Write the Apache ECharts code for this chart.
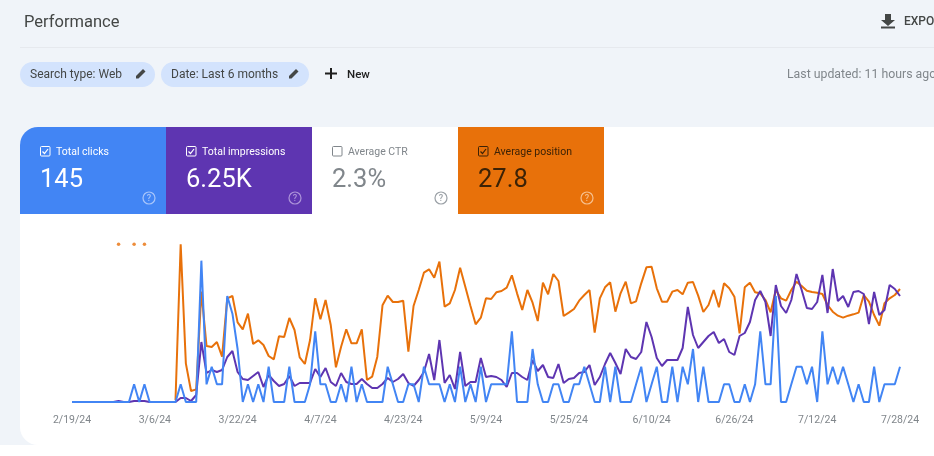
<!DOCTYPE html>
<html>
<head>
<meta charset="utf-8">
<title>Performance</title>
<style>html,body{margin:0;padding:0;background:#f0f4f9;overflow:hidden}#c{width:934px;height:456px}</style>
<script src="https://cdn.jsdelivr.net/npm/echarts@6/dist/echarts.min.js"></script>
</head>
<body>
<div id="c"></div>
<script>
// Daily values (2/19/24 .. 7/28/24, 161 days)
const clicks = [0,0,0,0,0,0,0,0,0,0,0,0,1,0,1,0,0,0,0,0,0,1,0,0,0,8,1,2,1,1,6,5,3,0,1,0,1,0,2,0,0,0,2,0,0,0,1,4,1,1,0,0,1,0,2,0,1,0,0,0,0,2,1,0,0,1,1,0,2,1,1,1,0,1,0,2,0,1,0,2,0,1,1,1,1,4,0,0,0,3,1,0,0,1,1,0,0,1,1,2,1,0,0,2,0,2,0,0,0,1,2,0,1,2,0,0,2,0,2,1,3,0,2,0,0,0,1,1,0,0,1,0,1,4,1,1,6,0,0,1,2,2,1,2,0,4,1,2,1,2,1,0,1,0,0,2,0,1,1,1,2];
const impressions = [0,0,0,0,0,0,0,0,0,1,0,0,1,1,1,0,0,0,0,0,0,4,4,1,7,60,29,32,30,32,45,51,30,23,22,26,30,15,27,21,16,18,26,16,19,19,19,33,25,34,20,16,29,20,18,18,23,18,14,14,18,24,20,23,28,19,16,22,30,48,22,62,19,27,13,50,16,20,20,44,25,26,25,22,15,29,29,25,22,42,31,37,25,24,38,19,23,24,29,30,37,17,25,38,49,39,28,53,45,43,50,80,65,44,36,42,42,42,54,95,67,54,60,66,70,59,63,50,47,66,69,80,102,111,100,66,117,96,89,102,128,112,94,93,100,127,89,133,101,106,95,110,111,108,78,110,87,92,117,113,106];
const position = [null,null,null,null,null,null,null,null,null,1,null,null,1,null,1,null,null,null,null,null,94.4,1,72.4,89,88,29.4,62,62.6,59.6,68.4,33.4,32,47.8,52,42.6,60.8,58.6,61.4,68,70,56.2,56.6,45.2,52.4,68.8,72.8,58.4,33.4,46,34.4,49.4,74.8,62.4,52,60.4,60.4,52,82.4,80.4,68.4,37.6,31.8,35.6,35.6,34.8,65.4,38,28.4,18,16,21,11.4,38.4,36.4,28.4,15,26.4,38,49,45,33.4,33.8,29.8,29,27,19.6,30.4,40.4,28.4,36,47,24,31,18.8,23,44,42,39.8,34.8,31.4,28.4,54,33.4,26.8,23.8,41.4,30.4,23.4,36.4,35.2,24.4,14.8,14.4,27.4,35.4,35.4,29.4,28.4,31,24,23.6,31.8,41.6,37.4,28.4,38.8,24.4,27.4,32.4,54.4,26.8,24,29.8,30.4,34.4,41.8,28.4,33.4,34.8,28.4,23.4,26,28.8,29.6,30,30.8,37.4,41.4,43.8,45,43.8,43,42,31.4,35.4,43.4,49.8,36.4,33.4,31.4,27.8];
const tiles = [
  {label:'Total clicks', value:'145', checked:true},
  {label:'Total impressions', value:'6.25K', checked:true},
  {label:'Average CTR', value:'2.3%', checked:false},
  {label:'Average position', value:'27.8', checked:true}
];
const tileColors = ['#4285f4','#5e35b1','#ffffff','#e8710a'];
const tileText = ['#ffffff','#ffffff','#80868b','#3c2206'];
const tileHelp = ['#a9c6fa','#ad94d9','#9aa0a6','#f6c08f'];

const categories = [];
for (let i = 0; i < clicks.length; i++) {
  const d = new Date(Date.UTC(2024, 1, 19 + i));
  categories.push((d.getUTCMonth()+1) + '/' + d.getUTCDate() + '/24');
}

const FONT = 'Roboto, sans-serif';
const g = [];
function text(x,y,s,size,fill,opt){ g.push({type:'text',x,y,silent:true,z:5,style:Object.assign({text:s,font:(opt&&opt.weight||'400')+' '+size+'px '+FONT,fill,textVerticalAlign:'middle',textAlign:'left'},opt&&opt.style)}); }
function poly(pts,fill){ g.push({type:'polygon',silent:true,z:5,shape:{points:pts},style:{fill}}); }

// page chrome
g.push({type:'rect',z:-3,shape:{x:0,y:445,width:934,height:11},style:{fill:'#fff'}});
g.push({type:'rect',z:-2,shape:{x:20,y:127,width:914,height:318,r:[18,0,0,18]},style:{fill:'#fff'}});
g.push({type:'line',shape:{x1:20,y1:47.5,x2:934,y2:47.5},style:{stroke:'#e6e9ee',lineWidth:1}});
text(24,23,'Performance',16.5,'#444746');
poly([[885,14],[891,14],[891,20],[895,20],[888,26],[881,20],[885,20]],'#444746');
poly([[881,26.5],[895,26.5],[895,28.5],[881,28.5]],'#444746');
text(904,22,'EXPORT',12,'#444746',{weight:'500'});
[[20,135,'Search type: Web',30,136],[161,148,'Date: Last 6 months',171,289]].forEach(c=>{
  g.push({type:'rect',shape:{x:c[0],y:62,width:c[1],height:25,r:12.5},style:{fill:'#d3e3fd'}});
  text(c[3],75,c[2],12,'#444746',{weight:'400'});
  const px=c[4];
  poly([[px,78.5],[px,76],[px+7,69],[px+9.5,71.5],[px+2.5,78.5]],'#444746');
});
poly([[330,68],[332,68],[332,72.5],[337,72.5],[337,74.5],[332,74.5],[332,79],[330,79],[330,74.5],[325,74.5],[325,72.5],[330,72.5]],'#1f1f1f');
text(347,75,'New',11.5,'#1f1f1f',{weight:'500'});
text(787,75,'Last updated: 11 hours ago',12.3,'#80868b');

// metric tiles
tiles.forEach((t,i)=>{
  const x = 20 + i*146;
  g.push({type:'rect',z:-1,shape:{x,y:127,width:146,height:87,r:i===0?[18,0,0,0]:0},style:{fill:tileColors[i]}});
  g.push({type:'rect',z:4,shape:{x:x+20.5,y:146.5,width:9.5,height:9.5,r:1},style:{fill:'none',stroke:tileText[i],lineWidth:1}});
  if(t.checked) g.push({type:'polyline',z:4,shape:{points:[[x+22.5,151.5],[x+24.5,153.5],[x+28,149]]},style:{fill:'none',stroke:tileText[i],lineWidth:1.2}});
  text(x+36,152,t.label,10.5,tileText[i]);
  text(x+20,181,t.value,25.5,tileText[i]);
  g.push({type:'circle',z:4,shape:{cx:x+129,cy:198,r:6},style:{fill:'none',stroke:tileHelp[i],lineWidth:1.2}});
  text(x+129,199,'?',9,tileHelp[i],{style:{textAlign:'center'},weight:'500'});
});

const chart = echarts.init(document.getElementById('c'),null,{width:934,height:456});
const hiddenY = {type:'value',show:false,splitLine:{show:false}};
chart.setOption({
  animation:false,
  backgroundColor:'#f0f4f9',
  textStyle:{fontFamily:FONT},
  graphic:g,
  grid:{left:72,right:34,top:243,bottom:54,containLabel:false},
  xAxis:{type:'category',boundaryGap:false,data:categories,
    axisLine:{show:false},axisTick:{show:false},splitLine:{show:false},
    axisLabel:{interval:15,color:'#80868b',fontSize:10.5,margin:13,fontFamily:FONT,showMinLabel:true,showMaxLabel:true,hideOverlap:false}},
  yAxis:[
    Object.assign({min:0,max:9},hiddenY),
    Object.assign({min:0,max:159},hiddenY),
    Object.assign({min:0.2,max:95.6,inverse:true},hiddenY)
  ],
  series:[
    {name:'Average position',type:'line',yAxisIndex:2,data:position,showSymbol:false,symbol:'none',lineStyle:{width:2,color:'#e8710a'},itemStyle:{color:'#e8710a'},z:2},
    {name:'Average position days',type:'scatter',yAxisIndex:2,symbolSize:3.5,itemStyle:{color:'#e8710a'},z:2,
      data:position.map((v,i)=>(v!==null&&position[i-1]==null&&position[i+1]==null)?v:null)},
    {name:'Total impressions',type:'line',yAxisIndex:1,data:impressions,showSymbol:false,symbol:'none',lineStyle:{width:2,color:'#5e35b1'},itemStyle:{color:'#5e35b1'},z:3},
    {name:'Total clicks',type:'line',yAxisIndex:0,data:clicks,showSymbol:false,symbol:'none',lineStyle:{width:2,color:'#4285f4'},itemStyle:{color:'#4285f4'},z:4}
  ]
});
</script>
</body>
</html>
